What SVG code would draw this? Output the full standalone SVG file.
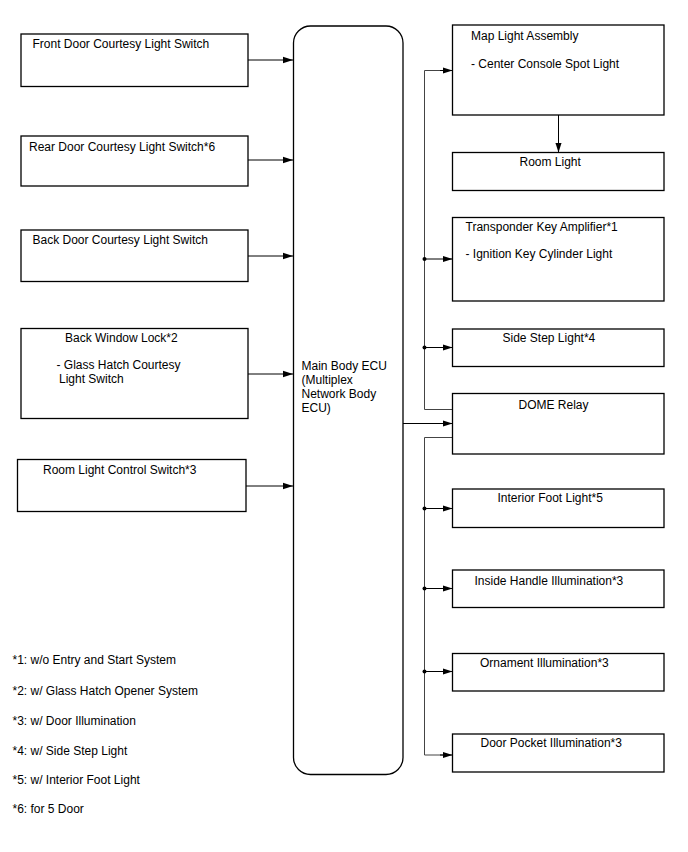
<svg xmlns="http://www.w3.org/2000/svg" width="688" height="852" viewBox="0 0 688 852">
<defs>
<marker id="arr" viewBox="0 0 10 8" refX="10" refY="4" markerWidth="10" markerHeight="8" markerUnits="userSpaceOnUse" orient="auto">
<path d="M0,0.8 L10,4 L0,7.2 Z" fill="#000"/>
</marker>
<style>
.box{fill:#fff;stroke:#000;stroke-width:1.3}
.t{font-family:"Liberation Sans",Arial,sans-serif;font-size:12px;fill:#000}
.c{fill:none;stroke:#000;stroke-width:1}
.bus{fill:none;stroke:#444;stroke-width:1}
.dot{fill:#000}
</style>
</defs>
<rect width="688" height="852" fill="#fff"/>
<g id="connectors">
<line class="c" x1="248" y1="60" x2="293" y2="60" marker-end="url(#arr)"/>
<line class="c" x1="248" y1="160" x2="293" y2="160" marker-end="url(#arr)"/>
<line class="c" x1="248" y1="256" x2="293" y2="256" marker-end="url(#arr)"/>
<line class="c" x1="248" y1="374" x2="293" y2="374" marker-end="url(#arr)"/>
<line class="c" x1="246" y1="486" x2="293" y2="486" marker-end="url(#arr)"/>
<line class="c" x1="403" y1="423.5" x2="452.5" y2="423.5" marker-end="url(#arr)"/>
<polyline class="bus" points="452.5,409.5 424.5,409.5 424.5,70.5 444,70.5"/>
<line class="c" x1="440" y1="70.5" x2="452.5" y2="70.5" marker-end="url(#arr)"/>
<line class="c" x1="424.5" y1="259" x2="452.5" y2="259" marker-end="url(#arr)"/>
<line class="c" x1="424.5" y1="347.5" x2="452.5" y2="347.5" marker-end="url(#arr)"/>
<polyline class="bus" points="452.5,437.5 424.5,437.5 424.5,755 444,755"/>
<line class="c" x1="440" y1="755" x2="452.5" y2="755" marker-end="url(#arr)"/>
<line class="c" x1="424.5" y1="508.5" x2="452.5" y2="508.5" marker-end="url(#arr)"/>
<line class="c" x1="424.5" y1="588.5" x2="452.5" y2="588.5" marker-end="url(#arr)"/>
<line class="c" x1="424.5" y1="671.5" x2="452.5" y2="671.5" marker-end="url(#arr)"/>
<line class="c" x1="558.5" y1="115" x2="558.5" y2="152.5" marker-end="url(#arr)"/>
<circle class="dot" cx="424.5" cy="259" r="2"/>
<circle class="dot" cx="424.5" cy="347.5" r="2"/>
<circle class="dot" cx="424.5" cy="508.5" r="2"/>
<circle class="dot" cx="424.5" cy="588.5" r="2"/>
<circle class="dot" cx="424.5" cy="671.5" r="2"/>
</g>
<g id="front-door">
<rect class="box" x="21" y="34" width="227" height="52.5"/>
<text class="t" x="32.5" y="48">Front Door Courtesy Light Switch</text>
</g>
<g id="rear-door">
<rect class="box" x="21" y="136" width="227" height="50"/>
<text class="t" x="29" y="150.5">Rear Door Courtesy Light Switch*6</text>
</g>
<g id="back-door">
<rect class="box" x="21" y="230" width="227" height="51.5"/>
<text class="t" x="32.5" y="244">Back Door Courtesy Light Switch</text>
</g>
<g id="back-window-lock">
<rect class="box" x="21" y="328.5" width="227" height="90"/>
<text class="t" x="65" y="342">Back Window Lock*2</text>
<text class="t" x="56.5" y="369">- Glass Hatch Courtesy</text>
<text class="t" x="59" y="382.5">Light Switch</text>
</g>
<g id="room-light-control">
<rect class="box" x="17.5" y="459.5" width="228.5" height="52"/>
<text class="t" x="43" y="474">Room Light Control Switch*3</text>
</g>
<g id="ecu">
<rect class="box" x="293.5" y="26" width="109.5" height="748.5" rx="17" ry="17"/>
<text class="t" x="301.5" y="370">Main Body ECU</text>
<text class="t" x="301.5" y="384.2">(Multiplex</text>
<text class="t" x="301.5" y="398.3">Network Body</text>
<text class="t" x="301.5" y="412.3">ECU)</text>
</g>
<g id="map-light">
<rect class="box" x="452.5" y="25" width="211.5" height="90"/>
<text class="t" x="471" y="40">Map Light Assembly</text>
<text class="t" x="471" y="68">- Center Console Spot Light</text>
</g>
<g id="room-light">
<rect class="box" x="452.5" y="152.5" width="211.5" height="38"/>
<text class="t" x="519.5" y="166">Room Light</text>
</g>
<g id="transponder">
<rect class="box" x="452.5" y="217.5" width="211.5" height="83.5"/>
<text class="t" x="465.5" y="230.5">Transponder Key Amplifier*1</text>
<text class="t" x="465.5" y="258">- Ignition Key Cylinder Light</text>
</g>
<g id="side-step">
<rect class="box" x="452.5" y="329" width="211.5" height="37.5"/>
<text class="t" x="502.5" y="341.5">Side Step Light*4</text>
</g>
<g id="dome-relay">
<rect class="box" x="452.5" y="393.5" width="211.5" height="60.5"/>
<text class="t" x="518.5" y="409">DOME Relay</text>
</g>
<g id="interior-foot">
<rect class="box" x="452.5" y="489" width="211.5" height="38.5"/>
<text class="t" x="497.5" y="501.5">Interior Foot Light*5</text>
</g>
<g id="inside-handle">
<rect class="box" x="452.5" y="570" width="211.5" height="37.5"/>
<text class="t" x="474.5" y="585">Inside Handle Illumination*3</text>
</g>
<g id="ornament">
<rect class="box" x="452.5" y="653.5" width="211.5" height="37.5"/>
<text class="t" x="480" y="666.5">Ornament Illumination*3</text>
</g>
<g id="door-pocket">
<rect class="box" x="452.5" y="734" width="211.5" height="38"/>
<text class="t" x="480.5" y="747">Door Pocket Illumination*3</text>
</g>
<g id="notes">
<text class="t" x="12.5" y="663.5">*1: w/o Entry and Start System</text>
<text class="t" x="12.5" y="694.5">*2: w/ Glass Hatch Opener System</text>
<text class="t" x="12.5" y="724.5">*3: w/ Door Illumination</text>
<text class="t" x="12.5" y="754.5">*4: w/ Side Step Light</text>
<text class="t" x="12.5" y="784">*5: w/ Interior Foot Light</text>
<text class="t" x="12.5" y="813">*6: for 5 Door</text>
</g>
</svg>
